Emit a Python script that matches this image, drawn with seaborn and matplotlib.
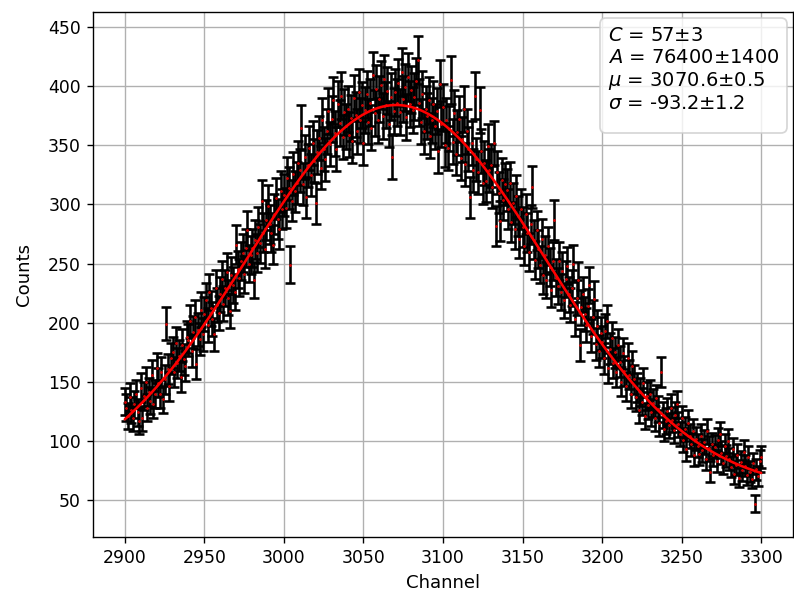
import numpy as np
import pandas as pd
import matplotlib
matplotlib.use("Agg")
import matplotlib.pyplot as plt
from matplotlib.offsetbox import TextArea, VPacker, AnchoredOffsetbox, DrawingArea
import seaborn as sns

# ---- data (counts per channel) ----
channel_start = 2900
counts = [
    133, 128, 121, 137, 126, 119, 131, 140, 124, 117,
    145, 119, 138, 150, 128, 141, 134, 156, 131, 140,
    162, 149, 140, 158, 135, 152, 199, 161, 146, 170,
    175, 158, 183, 166, 172, 154, 181, 169, 163, 188,
    185, 201, 176, 192, 205, 165, 194, 186, 211, 190,
    207, 219, 198, 226, 212, 203, 190, 229, 215, 208,
    224, 237, 216, 229, 243, 221, 210, 240, 232, 226,
    266, 245, 238, 252, 259, 241, 263, 278, 250, 257,
    263, 236, 270, 259, 281, 267, 303, 276, 262, 287,
    299, 283, 276, 266, 292, 305, 288, 279, 311, 296,
    308, 297, 322, 314, 249, 303, 326, 311, 318, 335,
    329, 365, 317, 340, 306, 333, 348, 325, 352, 337,
    301, 344, 356, 331, 371, 347, 338, 362, 379, 351,
    372, 388, 360, 347, 385, 369, 392, 357, 378, 366,
    381, 359, 373, 354, 390, 376, 362, 395, 371, 384,
    352, 380, 393, 370, 386, 365, 409, 377, 398, 371,
    389, 401, 375, 406, 384, 396, 368, 391, 340, 379,
    395, 386, 403, 378, 412, 389, 399, 374, 408, 385,
    397, 380, 391, 404, 422, 386, 370, 393, 362, 381,
    375, 388, 358, 371, 385, 366, 379, 345, 402, 368,
    382, 350, 371, 348, 364, 405, 353, 377, 343, 361,
    372, 339, 355, 381, 334, 362, 347, 306, 352, 329,
    392, 338, 327, 380, 345, 318, 335, 320, 349, 329,
    333, 315, 352, 282, 327, 310, 286, 321, 304, 317,
    312, 296, 318, 285, 301, 279, 307, 290, 271, 296,
    281, 265, 292, 276, 260, 283, 315, 270, 253, 278,
    262, 249, 271, 240, 257, 236, 265, 247, 228, 252,
    287, 238, 231, 252, 226, 244, 219, 237, 248, 224,
    215, 229, 250, 203, 221, 236, 181, 213, 224, 207,
    198, 214, 232, 189, 205, 220, 182, 197, 176, 191,
    184, 170, 193, 201, 162, 178, 187, 166, 175, 158,
    181, 167, 150, 174, 159, 146, 170, 156, 140, 163,
    152, 137, 145, 126, 141, 133, 149, 121, 138, 130,
    140, 124, 132, 119, 136, 127, 115, 158, 122, 110,
    117, 125, 113, 128, 118, 109, 122, 131, 114, 106,
    119, 101, 110, 93, 115, 104, 97, 108, 88, 102,
    96, 89, 104, 92, 99, 85, 108, 94, 74, 97,
    88, 95, 83, 101, 106, 90, 81, 96, 87, 100,
    85, 78, 93, 72, 80, 88, 69, 82, 75, 91,
    79, 71, 86, 74, 68, 81, 47, 76, 70, 83, 86,
]
channels = list(range(channel_start, channel_start + len(counts)))

# fit parameters (from the annotation box)
fit_C = 57.0
fit_A = 76400.0
fit_mu = 3070.6
fit_sigma = -93.2
param_labels = [r"$C$ = 57±3", r"$A$ = 76400±1400",
                r"$\mu$ = 3070.6±0.5", r"$\sigma$ = -93.2±1.2"]

df = pd.DataFrame({"Channel": channels, "Counts": counts})
df["err"] = np.sqrt(df["Counts"])

xf = np.linspace(min(channels), max(channels), 800)
s = abs(fit_sigma)
yf = fit_C + fit_A / (s * np.sqrt(2 * np.pi)) * np.exp(-(xf - fit_mu) ** 2 / (2 * s ** 2))
fit_df = pd.DataFrame({"Channel": xf, "Counts": yf})

sns.set_style("white")
plt.rcParams["font.family"] = ["DejaVu Sans"]
plt.rcParams["font.size"] = 10
for k in ["text.color", "axes.labelcolor", "xtick.color", "ytick.color"]:
    plt.rcParams[k] = "black"

fig = plt.figure(figsize=(794 / 124, 597 / 124), dpi=124)
ax = fig.add_axes([93 / 794, 1 - 537 / 597, (793 - 93) / 794, (537 - 12) / 597])

ax.errorbar(df["Channel"], df["Counts"], yerr=df["err"], fmt=".", color="red",
            markersize=1.0, ecolor="black", elinewidth=1.5, capsize=3,
            capthick=1.5, zorder=2)
sns.lineplot(data=fit_df, x="Channel", y="Counts", color="red", linewidth=1.5,
             ax=ax, zorder=3)

ax.set_xlim(2880, 3320)
ax.set_ylim(18.7, 462.7)
ax.set_xticks(np.arange(2900, 3301, 50))
ax.set_yticks(np.arange(50, 451, 50))
ax.grid(True, color="#b0b0b0", linewidth=0.8)
ax.set_axisbelow(True)
for sp in ax.spines.values():
    sp.set_color("black")
    sp.set_linewidth(0.8)
ax.tick_params(axis="both", which="major", direction="out", length=3.5, width=0.8,
               colors="black", labelsize=10, bottom=True, left=True)
ax.set_xlabel("Channel", fontsize=10.5)
ax.set_ylabel("Counts", fontsize=10.5, labelpad=9)

# parameter box
ta = TextArea("\n".join(param_labels),
              textprops=dict(fontsize=11.3, linespacing=1.17, color="black"))
spacer = DrawingArea(1, 7)
vp = VPacker(children=[ta, spacer], pad=0, sep=0, align="left")
box = AnchoredOffsetbox(loc="upper right", child=vp, pad=0.47, borderpad=0.0,
                        frameon=True, bbox_to_anchor=(0.992, 0.988),
                        bbox_transform=ax.transAxes)
box.patch.set_boxstyle("round,pad=0,rounding_size=0.35")
box.patch.set_facecolor("white")
box.patch.set_edgecolor("#cccccc")
box.patch.set_alpha(0.8)
ax.add_artist(box)

fig.savefig("out.png", dpi=124)
